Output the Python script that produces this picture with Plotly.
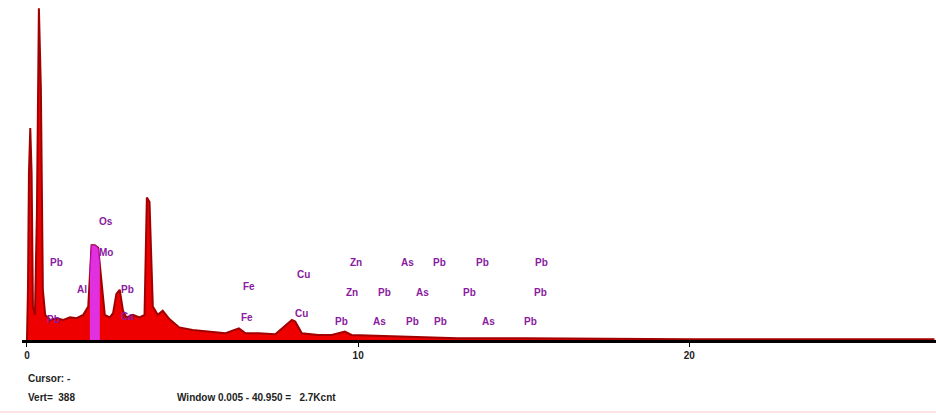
import plotly.graph_objects as go

# EDS spectrum (energy in keV, counts)
energy = [0.0, 0.03, 0.06, 0.1, 0.14, 0.18, 0.24, 0.3, 0.36, 0.42, 0.48, 0.55, 0.7, 0.9,
          1.1, 1.3, 1.5, 1.7, 1.85, 1.95, 2.05, 2.15, 2.25, 2.35, 2.5, 2.6, 2.7, 2.8, 2.9,
          3.0, 3.2, 3.4, 3.55, 3.62, 3.7, 3.8, 3.95, 4.1, 4.3, 4.6, 5.0, 5.5, 6.0, 6.4,
          6.6, 7.0, 7.5, 8.0, 8.1, 8.3, 8.8, 9.2, 9.6, 9.8, 10.5, 11.0, 12.0, 13.0, 15.0,
          20.0, 27.4]
counts = [0, 60, 200, 253, 200, 40, 30, 150, 396, 300, 60, 30, 24, 26,
          24, 27, 26, 30, 40, 113, 113, 110, 70, 30, 27, 32, 55, 60, 35,
          27, 30, 27, 30, 170, 165, 40, 30, 35, 25, 15, 12, 10, 8, 14,
          8, 8, 7, 24, 22, 8, 6, 6, 10, 6, 5, 4, 3, 2, 2,
          1, 1]

# highlighted region of interest (magenta)
roi_energy = [1.9, 1.95, 2.05, 2.15, 2.2]
roi_counts = [80, 113, 113, 110, 90]

# element labels: text, energy (keV), label height (counts)
label_text = ["Pb", "Os", "Mo", "Al", "Pb", "Pb", "Ca", "Fe", "Fe", "Cu", "Cu",
              "Zn", "As", "Pb", "Pb", "Pb",
              "Zn", "Pb", "As", "Pb", "Pb",
              "Pb", "As", "Pb", "Pb", "As", "Pb"]
label_energy = [0.9, 2.38, 2.4, 1.67, 3.05, 0.8, 3.05, 6.7, 6.65, 8.35, 8.3,
                9.95, 11.5, 12.45, 13.75, 15.55,
                9.8, 10.8, 11.95, 13.35, 15.5,
                9.5, 10.65, 11.65, 12.5, 13.95, 15.2]
label_counts = [92, 141, 105, 60, 60, 24, 28, 64, 27, 78, 32,
                92, 92, 92, 92, 92,
                57, 57, 57, 57, 57,
                22, 22, 22, 22, 22, 22]

tick_vals = [0, 10, 20]
tick_text = ["<b>0</b>", "<b>10</b>", "<b>20</b>"]

fig = go.Figure()
fig.add_trace(go.Scatter(x=energy, y=counts, mode="lines", fill="tozeroy",
                         line=dict(color="#a00000", width=2), fillcolor="#ee0000",
                         hoverinfo="skip", showlegend=False))
fig.add_trace(go.Scatter(x=roi_energy, y=roi_counts, mode="lines", fill="tozeroy",
                         line=dict(color="#c010c0", width=1), fillcolor="#e030e0",
                         hoverinfo="skip", showlegend=False))

for t, e, c in zip(label_text, label_energy, label_counts):
    fig.add_annotation(x=e, y=c, text="<b>" + t + "</b>", showarrow=False,
                       font=dict(family="Liberation Sans", size=10, color="#8a1aa0"))

foot_font = dict(family="Liberation Sans", size=10, color="#222")
fig.add_annotation(xref="paper", yref="paper", x=0.004, y=-(378 - 340) / 335,
                   xanchor="left", yanchor="middle", text="<b>Cursor: -</b>",
                   showarrow=False, font=foot_font)
fig.add_annotation(xref="paper", yref="paper", x=0.004, y=-(397 - 340) / 335,
                   xanchor="left", yanchor="middle", text="<b>Vert=  388</b>",
                   showarrow=False, font=foot_font)
fig.add_annotation(xref="paper", yref="paper", x=0.167, y=-(397 - 340) / 335,
                   xanchor="left", yanchor="middle",
                   text="<b>Window 0.005 - 40.950 =   2.7Kcnt</b>",
                   showarrow=False, font=foot_font)

# faint pink rule at the bottom edge
fig.add_shape(type="line", xref="paper", yref="paper", x0=-0.024, x1=1.0,
              y0=-(412 - 340) / 335, y1=-(412 - 340) / 335,
              line=dict(color="#f5c8cc", width=1))

fig.update_layout(
    width=936, height=415,
    margin=dict(l=22, r=0, t=5, b=75),
    paper_bgcolor="white", plot_bgcolor="white",
    xaxis=dict(range=[-0.15, 27.45], showgrid=False, zeroline=False,
               showline=True, linecolor="black", linewidth=3,
               tickvals=tick_vals, ticktext=tick_text, ticks="outside",
               ticklen=4, tickcolor="black",
               tickfont=dict(family="Liberation Sans", size=10, color="#222")),
    yaxis=dict(range=[0, 400], visible=False),
)

fig.write_html("out.html", config={"displayModeBar": False},
               post_script="document.body.style.margin='0';")
